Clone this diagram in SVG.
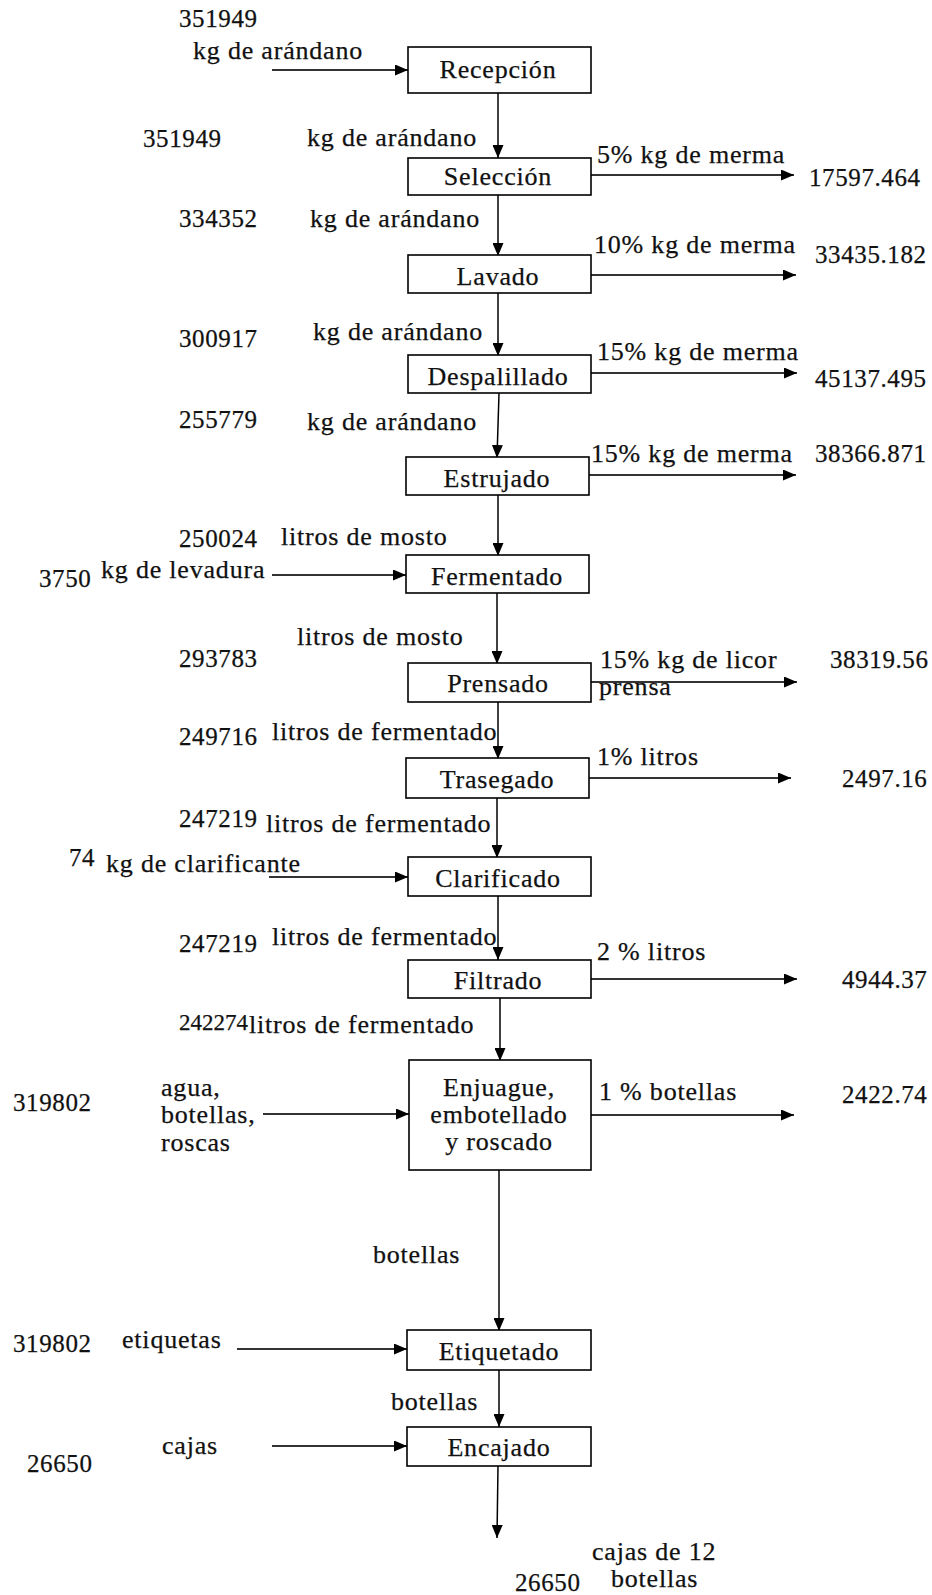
<svg xmlns="http://www.w3.org/2000/svg" width="932" height="1595" viewBox="0 0 932 1595">
  <style>
    text { font-family: "Liberation Serif", "Times New Roman", serif; font-size: 26px; fill: #111; stroke: #111; stroke-width: 0.25; letter-spacing: 0.8px; }
    .num { font-size: 25px; letter-spacing: 0.6px; }
    .small { font-size: 23px; letter-spacing: 0; }
    .mid { text-anchor: middle; }
    .box { fill: #fff; stroke: #000; stroke-width: 1.6; }
    .flow { stroke: #000; stroke-width: 1.5; fill: none; marker-end: url(#arrow); }
    .side { stroke: #333; stroke-width: 2; fill: none; marker-end: url(#arrow); }
  </style>
  <defs>
    <marker id="arrow" markerUnits="userSpaceOnUse" markerWidth="13" markerHeight="11" refX="13" refY="5.5" orient="auto">
      <path d="M0,0 L13,5.5 L0,11 z" fill="#000"/>
    </marker>
  </defs>
  <rect width="932" height="1595" fill="#fff"/>

  <!-- connectors -->
  <g id="connectors">
    <!-- main line -->
    <line class="flow" x1="498" y1="93" x2="498" y2="158"/>
    <line class="flow" x1="498" y1="195" x2="498" y2="256"/>
    <line class="flow" x1="498" y1="293" x2="498" y2="356"/>
    <line class="flow" x1="499" y1="393" x2="497" y2="458"/>
    <line class="flow" x1="498" y1="495" x2="498" y2="556"/>
    <line class="flow" x1="497" y1="593" x2="497" y2="664"/>
    <line class="flow" x1="498" y1="702" x2="498" y2="759"/>
    <line class="flow" x1="497" y1="798" x2="497" y2="858"/>
    <line class="flow" x1="498" y1="896" x2="498" y2="960"/>
    <line class="flow" x1="500" y1="998" x2="500" y2="1061"/>
    <line class="flow" x1="499" y1="1170" x2="499" y2="1331"/>
    <line class="flow" x1="499" y1="1370" x2="499" y2="1427"/>
    <line class="flow" x1="498" y1="1466" x2="497" y2="1538"/>
    <!-- inputs -->
    <line class="side" x1="272" y1="70" x2="408" y2="70"/>
    <line class="side" x1="272" y1="575" x2="406" y2="575"/>
    <line class="side" x1="269" y1="877" x2="408" y2="877"/>
    <line class="side" x1="263" y1="1114" x2="409" y2="1114"/>
    <line class="side" x1="237" y1="1349" x2="407" y2="1349"/>
    <line class="side" x1="272" y1="1446" x2="407" y2="1446"/>
    <!-- losses -->
    <line class="side" x1="591" y1="175" x2="794" y2="175"/>
    <line class="side" x1="591" y1="275" x2="796" y2="275"/>
    <line class="side" x1="591" y1="373" x2="797" y2="373"/>
    <line class="side" x1="589" y1="475" x2="796" y2="475"/>
    <line class="side" x1="591" y1="682" x2="797" y2="682"/>
    <line class="side" x1="589" y1="778" x2="791" y2="778"/>
    <line class="side" x1="591" y1="979" x2="797" y2="979"/>
    <line class="side" x1="591" y1="1115" x2="794" y2="1115"/>
  </g>

  <!-- process steps -->
  <g id="recepcion">
    <rect class="box" x="408" y="47" width="183" height="46"/>
    <text class="mid" x="498" y="78">Recepción</text>
  </g>
  <g id="seleccion">
    <rect class="box" x="408" y="158" width="183" height="37"/>
    <text class="mid" x="498" y="185">Selección</text>
  </g>
  <g id="lavado">
    <rect class="box" x="408" y="255" width="183" height="38"/>
    <text class="mid" x="498" y="285">Lavado</text>
  </g>
  <g id="despalillado">
    <rect class="box" x="408" y="355" width="183" height="38"/>
    <text class="mid" x="498" y="385">Despalillado</text>
  </g>
  <g id="estrujado">
    <rect class="box" x="406" y="457" width="183" height="38"/>
    <text class="mid" x="497" y="487">Estrujado</text>
  </g>
  <g id="fermentado">
    <rect class="box" x="406" y="555" width="183" height="38"/>
    <text class="mid" x="497" y="585">Fermentado</text>
  </g>
  <g id="prensado">
    <rect class="box" x="408" y="663" width="183" height="39"/>
    <text class="mid" x="498" y="692">Prensado</text>
  </g>
  <g id="trasegado">
    <rect class="box" x="406" y="758" width="183" height="40"/>
    <text class="mid" x="497" y="788">Trasegado</text>
  </g>
  <g id="clarificado">
    <rect class="box" x="408" y="857" width="183" height="39"/>
    <text class="mid" x="498" y="887">Clarificado</text>
  </g>
  <g id="filtrado">
    <rect class="box" x="408" y="960" width="183" height="38"/>
    <text class="mid" x="498" y="989">Filtrado</text>
  </g>
  <g id="enjuague">
    <rect class="box" x="409" y="1060" width="182" height="110"/>
    <text class="mid" x="499" y="1096">Enjuague,</text>
    <text class="mid" x="499" y="1123">embotellado</text>
    <text class="mid" x="499" y="1150">y roscado</text>
  </g>
  <g id="etiquetado">
    <rect class="box" x="407" y="1330" width="184" height="40"/>
    <text class="mid" x="499" y="1360">Etiquetado</text>
  </g>
  <g id="encajado">
    <rect class="box" x="407" y="1427" width="184" height="39"/>
    <text class="mid" x="499" y="1456">Encajado</text>
  </g>

  <!-- stream quantities and descriptions -->
  <g id="labels">
    <text class="num" x="179" y="27">351949</text>
    <text x="193" y="59">kg de arándano</text>

    <text class="num" x="143" y="147">351949</text>
    <text x="307" y="146">kg de arándano</text>
    <text x="597" y="163">5% kg de merma</text>
    <text class="num" x="809" y="186">17597.464</text>

    <text class="num" x="179" y="227">334352</text>
    <text x="310" y="227">kg de arándano</text>
    <text x="594" y="253">10% kg de merma</text>
    <text class="num" x="815" y="263">33435.182</text>

    <text class="num" x="179" y="347">300917</text>
    <text x="313" y="340">kg de arándano</text>
    <text x="597" y="360">15% kg de merma</text>
    <text class="num" x="815" y="387">45137.495</text>

    <text class="num" x="179" y="428">255779</text>
    <text x="307" y="430">kg de arándano</text>
    <text x="591" y="462">15% kg de merma</text>
    <text class="num" x="815" y="462">38366.871</text>

    <text class="num" x="179" y="547">250024</text>
    <text x="281" y="545">litros de mosto</text>
    <text class="num" x="39" y="587">3750</text>
    <text x="101" y="578">kg de levadura</text>

    <text x="297" y="645">litros de mosto</text>
    <text class="num" x="179" y="667">293783</text>
    <text x="600" y="668">15% kg de licor</text>
    <text x="599" y="695">prensa</text>
    <text class="num" x="830" y="668">38319.56</text>

    <text class="num" x="179" y="745">249716</text>
    <text x="272" y="740">litros de fermentado</text>
    <text x="597" y="765">1% litros</text>
    <text class="num" x="842" y="787">2497.16</text>

    <text class="num" x="179" y="827">247219</text>
    <text x="266" y="832">litros de fermentado</text>
    <text class="num" x="69" y="866">74</text>
    <text x="106" y="872">kg de clarificante</text>

    <text class="num" x="179" y="952">247219</text>
    <text x="272" y="945">litros de fermentado</text>
    <text x="597" y="960">2 % litros</text>
    <text class="num" x="842" y="988">4944.37</text>

    <text class="num small" x="179" y="1030">242274</text>
    <text x="249" y="1033">litros de fermentado</text>

    <text class="num" x="13" y="1111">319802</text>
    <text x="161" y="1096">agua,</text>
    <text x="161" y="1123">botellas,</text>
    <text x="161" y="1151">roscas</text>
    <text x="599" y="1100">1 % botellas</text>
    <text class="num" x="842" y="1103">2422.74</text>

    <text x="373" y="1263">botellas</text>

    <text class="num" x="13" y="1352">319802</text>
    <text x="122" y="1348">etiquetas</text>

    <text x="391" y="1410">botellas</text>

    <text x="162" y="1454">cajas</text>
    <text class="num" x="27" y="1472">26650</text>

    <text x="592" y="1560">cajas de 12</text>
    <text x="611" y="1587">botellas</text>
    <text class="num" x="515" y="1591">26650</text>
  </g>
</svg>
